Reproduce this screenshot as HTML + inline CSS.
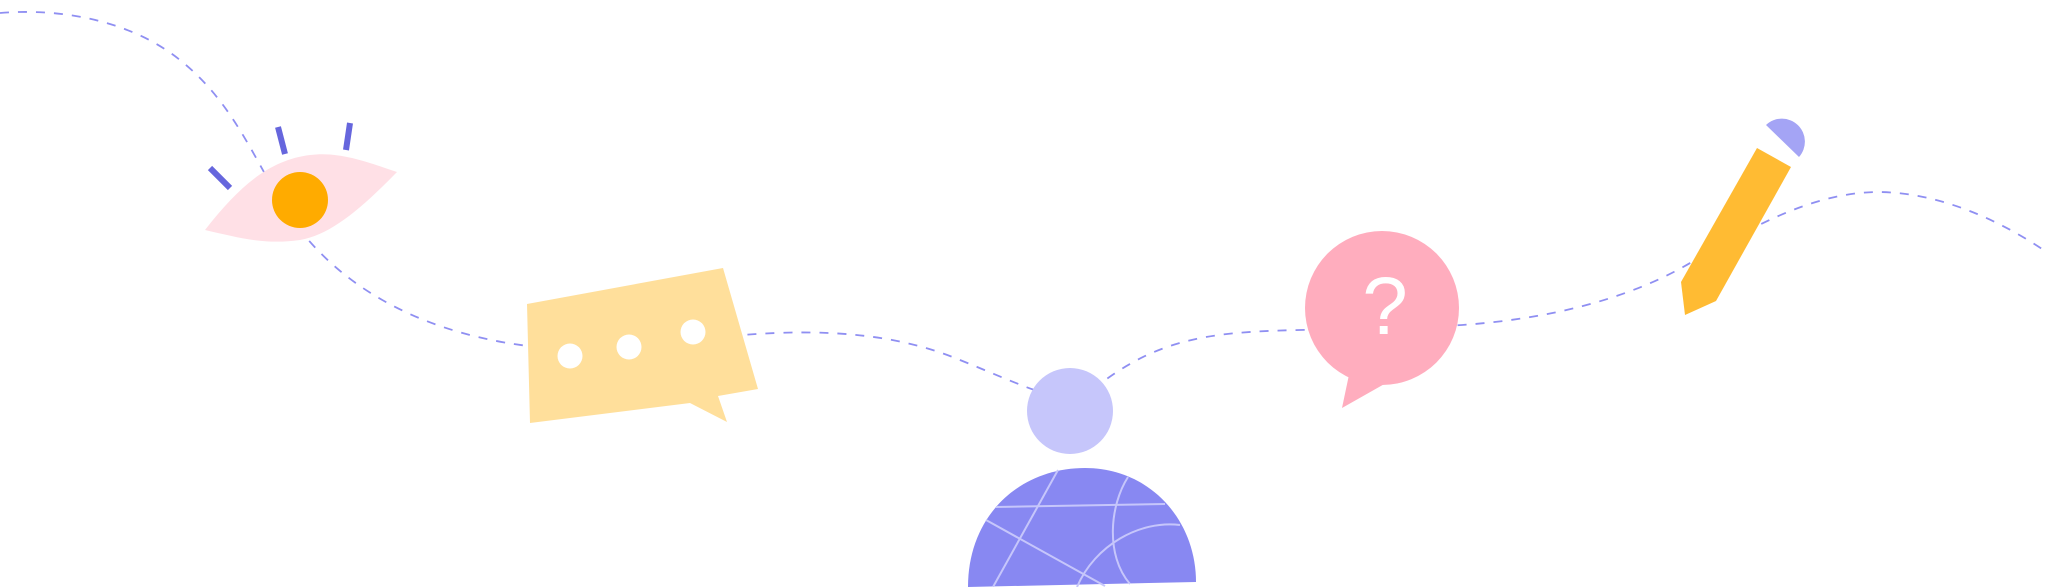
<!DOCTYPE html>
<html><head><meta charset="utf-8"><style>
html,body{margin:0;padding:0;background:#fff;width:2048px;height:587px;overflow:hidden}
svg{display:block}
</style></head><body>
<svg width="2048" height="587" viewBox="0 0 2048 587" xmlns="http://www.w3.org/2000/svg">
<path d="M0,13 C60,8 130,20 180,60 C230,100 250,150 280,200 C320,270 400,330 528,346 C600,350 660,340 743,335 C830,328 900,335 960,360 C1010,380 1050,400 1080,400 C1150,340 1200,332 1300,330 C1380,328 1430,327 1462,325 C1560,318 1640,295 1700,257 C1780,210 1830,192 1880,192 C1940,193 2000,220 2048,253"
 fill="none" stroke="#8f8ff2" stroke-width="1.8" stroke-dasharray="9 9"/>
<!-- eye -->
<g stroke="#6666dd" stroke-width="6" stroke-linecap="butt">
<line x1="210" y1="168" x2="230" y2="188"/>
<line x1="278" y1="127" x2="285" y2="154"/>
<line x1="350" y1="123" x2="346" y2="150"/>
</g>
<path d="M205,230 C240,185 270,160 310,155 C340,151 370,163 397,172 C360,210 330,235 300,240 C265,245 240,238 205,230 Z" fill="#ffe0e6"/>
<circle cx="300" cy="200" r="28" fill="#ffab00"/>
<!-- speech bubble -->
<path d="M527,304 L723,268 L758,389 L718,396 L727,422 L690,403 L530,423 Z" fill="#ffdf9b"/>
<circle cx="570" cy="356" r="12.5" fill="#fff"/>
<circle cx="629" cy="347" r="12.5" fill="#fff"/>
<circle cx="693" cy="332" r="12.5" fill="#fff"/>
<!-- person -->
<circle cx="1070" cy="411" r="43" fill="#c6c6fb"/>
<path d="M968,587 C968,515 1020,468 1085,468 C1150,468 1196,520 1196,582 Z" fill="#8888f2"/>
<g stroke="#c6c6fb" stroke-width="2" fill="none">
<line x1="1058" y1="470" x2="993" y2="587"/>
<line x1="996" y1="507" x2="1165" y2="504"/>
<line x1="986" y1="520" x2="1105" y2="586"/>
<path d="M1077,587 C1095,545 1140,520 1180,525"/>
<path d="M1128,477 C1110,505 1105,555 1130,584"/>
</g>
<!-- question bubble -->
<circle cx="1382" cy="308" r="77" fill="#ffadbe"/>
<path d="M1350,370 L1342,408 L1395,378 Z" fill="#ffadbe"/>
<text x="1385" y="334" text-anchor="middle" font-family="Liberation Sans, sans-serif" font-size="82" fill="#fff">?</text>
<!-- pencil -->
<path d="M1757,148 L1791,167 L1716,301 L1685,315 L1681,282 Z" fill="#ffbb33"/>
<path d="M1766,125 A23,23 0 0 1 1799,157 Z" fill="#a4a4f5"/>
</svg>
</body></html>
